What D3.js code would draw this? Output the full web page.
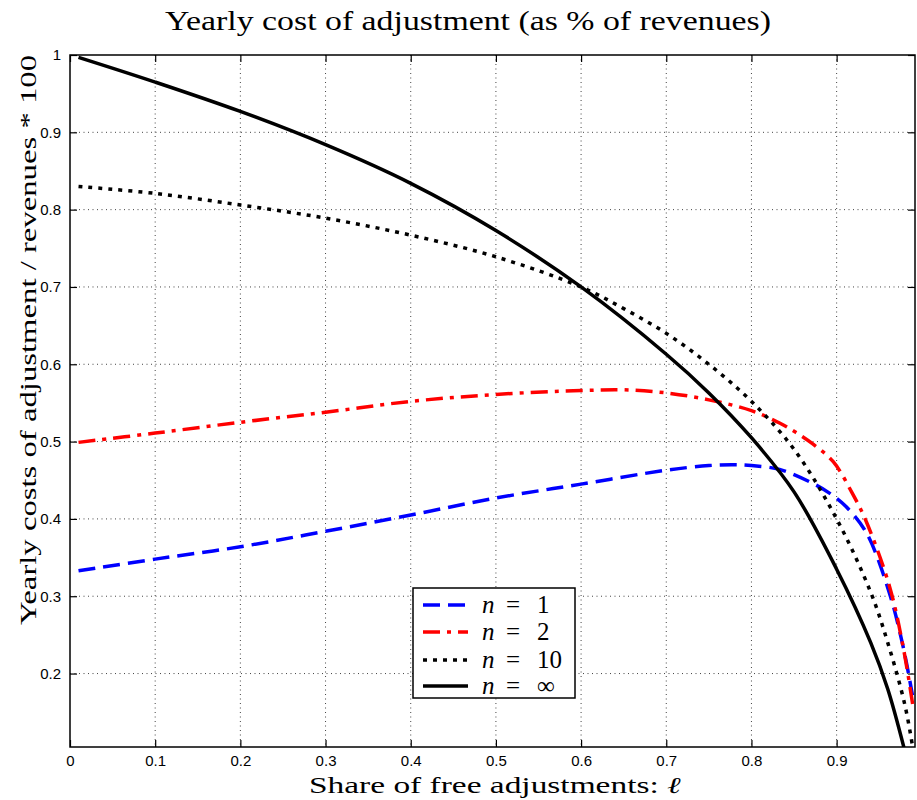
<!DOCTYPE html>
<html><head><meta charset="utf-8">
<script src="https://cdn.jsdelivr.net/npm/d3@7"></script>
<style>body{margin:0;background:#fff}svg{display:block}</style>
</head><body>
<script>
// ---- data ----
const xTicks = [0, 0.1, 0.2, 0.3, 0.4, 0.5, 0.6, 0.7, 0.8, 0.9];
const yTicks = [0.2, 0.3, 0.4, 0.5, 0.6, 0.7, 0.8, 0.9, 1];
const seriesNames = ["n = 1", "n = 2", "n = 10", "n = ∞"];
const n1X = [0.01, 0.1, 0.2, 0.3, 0.4, 0.5, 0.6, 0.7, 0.75, 0.78, 0.8, 0.833, 0.872, 0.892, 0.911, 0.935, 0.962, 0.978, 0.989];
const n1Y = [0.333, 0.348, 0.364, 0.384, 0.405, 0.427, 0.445, 0.463, 0.469, 0.470, 0.469, 0.464, 0.446, 0.433, 0.416, 0.382, 0.304, 0.235, 0.172];
const n2X = [0.01, 0.1, 0.2, 0.3, 0.4, 0.5, 0.6, 0.65, 0.7, 0.75, 0.8, 0.833, 0.852, 0.872, 0.896, 0.918, 0.935, 0.962, 0.978, 0.99];
const n2Y = [0.499, 0.511, 0.525, 0.538, 0.552, 0.561, 0.566, 0.567, 0.563, 0.554, 0.540, 0.524, 0.512, 0.497, 0.474, 0.434, 0.396, 0.313, 0.235, 0.155];
const n10X = [0.01, 0.1, 0.2, 0.3, 0.4, 0.5, 0.6, 0.65, 0.7, 0.75, 0.8, 0.85, 0.9, 0.94, 0.96, 0.98, 0.99];
const n10Y = [0.830, 0.821, 0.806, 0.789, 0.767, 0.739, 0.700, 0.672, 0.640, 0.600, 0.552, 0.490, 0.400, 0.305, 0.240, 0.160, 0.100];
const ninfX = [0.01, 0.1, 0.2, 0.3, 0.4, 0.5, 0.6, 0.7, 0.75, 0.8, 0.85, 0.9, 0.94, 0.96, 0.98];
const ninfY = [0.997, 0.965, 0.927, 0.884, 0.834, 0.773, 0.700, 0.613, 0.563, 0.505, 0.435, 0.335, 0.240, 0.180, 0.100];

const W = 917, H = 800;
const M = {left: 70, top: 55, right: 915, bottom: 747};
const svg = d3.select("body").append("svg").attr("width", W).attr("height", H);
const x = d3.scaleLinear().domain([0, 0.992]).range([M.left, M.right]);
const y = d3.scaleLinear().domain([0.105, 1]).range([M.bottom, M.top]);

const serif = "'Liberation Serif', 'DejaVu Serif', serif";
const sans = "'Liberation Sans', Arial, sans-serif";

// grid
const g = svg.append("g");
g.selectAll(".gx").data(xTicks.filter(d => d > 0)).join("line")
  .attr("x1", d => x(d)).attr("x2", d => x(d)).attr("y1", M.top).attr("y2", M.bottom)
  .attr("stroke", "#444").attr("stroke-width", 1).attr("stroke-dasharray", "1,3.5");
g.selectAll(".gy").data(yTicks.filter(d => d < 1)).join("line")
  .attr("y1", d => y(d)).attr("y2", d => y(d)).attr("x1", M.left).attr("x2", M.right)
  .attr("stroke", "#444").attr("stroke-width", 1).attr("stroke-dasharray", "1,3.5");

// axes (ticks inward, mirrored)
const axB = d3.axisBottom(x).tickValues(xTicks).tickSize(-7).tickPadding(8).tickFormat(d3.format("~g"));
const axT = d3.axisTop(x).tickValues(xTicks).tickSize(-7).tickFormat("");
const axL = d3.axisLeft(y).tickValues(yTicks).tickSize(-7).tickPadding(9).tickFormat(d3.format("~g"));
const axR = d3.axisRight(y).tickValues(yTicks).tickSize(-7).tickFormat("");
function style(sel){
  sel.attr("font-size", 15).attr("font-family", sans);
  sel.select(".domain").remove();
  sel.selectAll("line").attr("stroke", "#000").attr("stroke-width", 1.2);
  sel.selectAll("text").attr("fill", "#000");
}
svg.append("g").attr("transform", `translate(0,${M.bottom})`).call(axB).call(style);
svg.append("g").attr("transform", `translate(0,${M.top})`).call(axT).call(style);
svg.append("g").attr("transform", `translate(${M.left},0)`).call(axL).call(style);
svg.append("g").attr("transform", `translate(${M.right},0)`).call(axR).call(style);
svg.append("rect").attr("x", M.left).attr("y", M.top).attr("width", M.right - M.left).attr("height", M.bottom - M.top)
  .attr("fill", "none").attr("stroke", "#000").attr("stroke-width", 1.5);

// curves
const series = [
  {xs: n1X, ys: n1Y, color: "#0000ff", dash: "17,8"},
  {xs: n2X, ys: n2Y, color: "#ff0000", dash: "17,7,4,7"},
  {xs: n10X, ys: n10Y, color: "#000000", dash: "4,6"},
  {xs: ninfX, ys: ninfY, color: "#000000", dash: null}
];
const line = d3.line().x(d => x(d[0])).y(d => y(d[1])).curve(d3.curveCatmullRom.alpha(0.5));
svg.append("defs").append("clipPath").attr("id", "clip").append("rect")
  .attr("x", M.left).attr("y", M.top).attr("width", M.right - M.left).attr("height", M.bottom - M.top);
const pl = svg.append("g").attr("clip-path", "url(#clip)");
series.forEach(s => {
  pl.append("path").datum(s.xs.map((v, i) => [v, s.ys[i]]))
    .attr("d", line).attr("fill", "none").attr("stroke", s.color).attr("stroke-width", 3.5)
    .attr("stroke-dasharray", s.dash);
});

// legend
const lg = svg.append("g");
lg.append("rect").attr("x", 413).attr("y", 588).attr("width", 162).attr("height", 110)
  .attr("fill", "#fff").attr("stroke", "#000").attr("stroke-width", 1.5);
const rowsY = [605, 632, 660, 686];
series.forEach((s, i) => {
  lg.append("line").attr("x1", 423).attr("x2", 468).attr("y1", rowsY[i]).attr("y2", rowsY[i])
    .attr("stroke", s.color).attr("stroke-width", 3.5).attr("stroke-dasharray", s.dash);
  const parts = seriesNames[i].split(" = ");
  const t = lg.append("text").attr("y", rowsY[i] + 8)
    .attr("font-family", serif).attr("font-size", 25).attr("fill", "#000");
  t.append("tspan").attr("x", 482).attr("font-style", "italic").text(parts[0]);
  t.append("tspan").attr("x", 506).text("=");
  t.append("tspan").attr("x", 537).text(parts[1]);
});

// titles
svg.append("text").attr("x", 468).attr("y", 30).attr("text-anchor", "middle")
  .attr("font-family", serif).attr("font-size", 27).attr("fill", "#000")
  .attr("textLength", 606).attr("lengthAdjust", "spacingAndGlyphs")
  .text("Yearly cost of adjustment (as % of revenues)");
const xl = svg.append("text").attr("x", 495).attr("y", 793).attr("text-anchor", "middle")
  .attr("font-family", serif).attr("font-size", 23).attr("fill", "#000")
  .attr("textLength", 372).attr("lengthAdjust", "spacingAndGlyphs");
xl.append("tspan").text("Share of free adjustments: ");
xl.append("tspan").attr("font-style", "italic").text("ℓ");
svg.append("text").attr("transform", "translate(36,340) rotate(-90)").attr("text-anchor", "middle")
  .attr("font-family", serif).attr("font-size", 24).attr("fill", "#000")
  .attr("textLength", 570).attr("lengthAdjust", "spacingAndGlyphs")
  .text("Yearly costs of adjustment / revenues * 100");
</script>
</body></html>
